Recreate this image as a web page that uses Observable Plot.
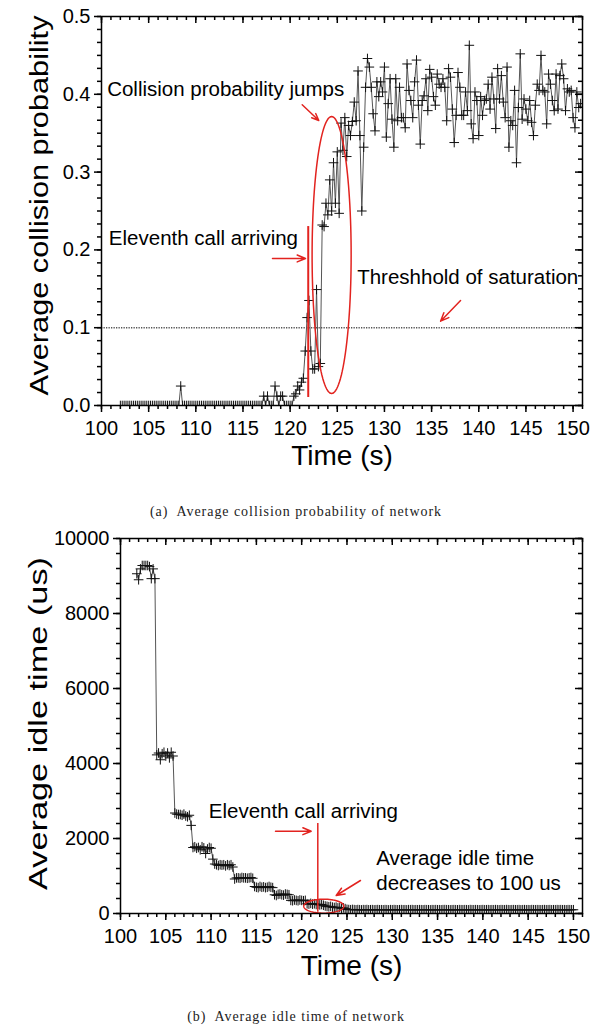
<!DOCTYPE html>
<html>
<head>
<meta charset="utf-8">
<script src="https://cdn.jsdelivr.net/npm/d3@7"></script>
<script src="https://cdn.jsdelivr.net/npm/@observablehq/plot@0.6"></script>
<style>
  html, body { margin: 0; padding: 0; background: #fff; }
  #page { position: relative; width: 592px; height: 1028px; overflow: hidden; background: #fff; }
  .caption { position: absolute; left: 0; width: 592px; text-align: center;
             font-family: "Liberation Serif", "Times New Roman", serif; font-size: 14px;
             letter-spacing: 0.95px; line-height: 16px; color: #222; white-space: pre; }
</style>
</head>
<body>
<div id="page"></div>
<script>
// ---------- (a) Average collision probability of network ----------
const collisionTime = [
  102, 102.2, 102.4, 102.6, 102.8, 103, 103.2, 103.4, 103.6, 103.8,
  104, 104.2, 104.4, 104.6, 104.8, 105, 105.2, 105.4, 105.6, 105.8,
  106, 106.2, 106.4, 106.6, 106.8, 107, 107.2, 107.4, 107.6, 107.8,
  108, 108.2, 108.4, 108.6, 108.8, 109, 109.2, 109.4, 109.6, 109.8,
  110, 110.2, 110.4, 110.6, 110.8, 111, 111.2, 111.4, 111.6, 111.8,
  112, 112.2, 112.4, 112.6, 112.8, 113, 113.2, 113.4, 113.6, 113.8,
  114, 114.2, 114.4, 114.6, 114.8, 115, 115.2, 115.4, 115.6, 115.8,
  116, 116.2, 116.4, 116.6, 116.8, 117, 117.2, 117.4, 117.6, 117.8,
  118, 118.2, 118.4, 118.6, 118.8, 119, 119.2, 119.4, 119.6, 119.8,
  120, 120.2, 120.4, 120.6, 120.8, 121, 121.2, 121.4, 121.6, 121.8,
  122, 122.2, 122.4, 122.6, 122.8, 123, 123.2, 123.4, 123.6, 123.8,
  124, 124.2, 124.4, 124.6, 124.8, 125, 125.2, 125.4, 125.6, 125.8,
  126, 126.2, 126.4, 126.6, 126.8, 127, 127.2, 127.4, 127.6, 127.8,
  128, 128.2, 128.4, 128.6, 128.8, 129, 129.2, 129.4, 129.6, 129.8,
  130, 130.2, 130.4, 130.6, 130.8, 131, 131.2, 131.4, 131.6, 131.8,
  132, 132.2, 132.4, 132.6, 132.8, 133, 133.2, 133.4, 133.6, 133.8,
  134, 134.2, 134.4, 134.6, 134.8, 135, 135.2, 135.4, 135.6, 135.8,
  136, 136.2, 136.4, 136.6, 136.8, 137, 137.2, 137.4, 137.6, 137.8,
  138, 138.2, 138.4, 138.6, 138.8, 139, 139.2, 139.4, 139.6, 139.8,
  140, 140.2, 140.4, 140.6, 140.8, 141, 141.2, 141.4, 141.6, 141.8,
  142, 142.2, 142.4, 142.6, 142.8, 143, 143.2, 143.4, 143.6, 143.8,
  144, 144.2, 144.4, 144.6, 144.8, 145, 145.2, 145.4, 145.6, 145.8,
  146, 146.2, 146.4, 146.6, 146.8, 147, 147.2, 147.4, 147.6, 147.8,
  148, 148.2, 148.4, 148.6, 148.8, 149, 149.2, 149.4, 149.6, 149.8,
  150, 150.2, 150.4, 150.6, 150.8
];
const collisionProb = [
  0, 0, 0, 0, 0, 0, 0, 0, 0, 0,
  0, 0, 0, 0, 0, 0, 0, 0, 0, 0,
  0, 0, 0, 0, 0, 0, 0, 0, 0, 0,
  0, 0, 0.025, 0, 0, 0, 0, 0, 0, 0,
  0, 0, 0, 0, 0, 0, 0, 0, 0, 0,
  0, 0, 0, 0, 0, 0, 0, 0, 0, 0,
  0, 0, 0, 0, 0, 0, 0, 0, 0, 0,
  0, 0, 0, 0, 0, 0, 0.012, 0, 0.012, 0,
  0, 0, 0.025, 0.012, 0, 0.012, 0.012, 0, 0, 0,
  0, 0, 0.012, 0.015, 0.025, 0.02, 0.03, 0.035, 0.07, 0.113,
  0.135, 0.07, 0.047, 0.047, 0.149, 0.05, 0.054, 0.232, 0.23, 0.26,
  0.245, 0.29, 0.25, 0.312, 0.26, 0.326, 0.247, 0.363, 0.328, 0.37,
  0.32, 0.36, 0.347, 0.365, 0.39, 0.366, 0.43, 0.347, 0.25, 0.332,
  0.409, 0.446, 0.435, 0.409, 0.375, 0.353, 0.416, 0.397, 0.416, 0.403,
  0.435, 0.345, 0.388, 0.42, 0.368, 0.332, 0.42, 0.366, 0.409, 0.37,
  0.37, 0.357, 0.439, 0.405, 0.392, 0.37, 0.416, 0.444, 0.386, 0.336,
  0.392, 0.398, 0.42, 0.379, 0.432, 0.422, 0.397, 0.386, 0.426, 0.413,
  0.409, 0.42, 0.409, 0.366, 0.433, 0.422, 0.381, 0.338, 0.373, 0.428,
  0.409, 0.373, 0.373, 0.403, 0.379, 0.463, 0.362, 0.343, 0.403, 0.392,
  0.347, 0.397, 0.373, 0.392, 0.394, 0.413, 0.381, 0.422, 0.394, 0.356,
  0.433, 0.394, 0.424, 0.39, 0.37, 0.435, 0.332, 0.366, 0.36, 0.405,
  0.312, 0.383, 0.452, 0.368, 0.394, 0.381, 0.366, 0.392, 0.364, 0.347,
  0.386, 0.413, 0.405, 0.45, 0.405, 0.403, 0.362, 0.426, 0.413, 0.392,
  0.379, 0.426, 0.381, 0.424, 0.439, 0.42, 0.379, 0.407, 0.403, 0.405,
  0.37, 0.357, 0.403, 0.383, 0.388
];
const saturationThreshold = 0.1;
const xTicksMajor = [100, 105, 110, 115, 120, 125, 130, 135, 140, 145, 150];
const probTicks = [0, 0.1, 0.2, 0.3, 0.4, 0.5];

// ---------- (b) Average idle time of network ----------
const idleTime = [
  101.8, 102, 102.2, 102.4, 102.6, 102.8, 103, 103.2, 103.4, 103.6,
  103.8, 104, 104.2, 104.4, 104.6, 104.8, 105, 105.2, 105.4, 105.6,
  105.8, 106, 106.2, 106.4, 106.6, 106.8, 107, 107.2, 107.4, 107.6,
  107.8, 108, 108.2, 108.4, 108.6, 108.8, 109, 109.2, 109.4, 109.6,
  109.8, 110, 110.2, 110.4, 110.6, 110.8, 111, 111.2, 111.4, 111.6,
  111.8, 112, 112.2, 112.4, 112.6, 112.8, 113, 113.2, 113.4, 113.6,
  113.8, 114, 114.2, 114.4, 114.6, 114.8, 115, 115.2, 115.4, 115.6,
  115.8, 116, 116.2, 116.4, 116.6, 116.8, 117, 117.2, 117.4, 117.6,
  117.8, 118, 118.2, 118.4, 118.6, 118.8, 119, 119.2, 119.4, 119.6,
  119.8, 120, 120.2, 120.4, 120.6, 120.8, 121, 121.2, 121.4, 121.6,
  121.8, 122, 122.2, 122.4, 122.6, 122.8, 123, 123.2, 123.4, 123.6,
  123.8, 124, 124.2, 124.4, 124.6, 124.8, 125, 125.2, 125.4, 125.6,
  125.8, 126, 126.2, 126.4, 126.6, 126.8, 127, 127.2, 127.4, 127.6,
  127.8, 128, 128.2, 128.4, 128.6, 128.8, 129, 129.2, 129.4, 129.6,
  129.8, 130, 130.2, 130.4, 130.6, 130.8, 131, 131.2, 131.4, 131.6,
  131.8, 132, 132.2, 132.4, 132.6, 132.8, 133, 133.2, 133.4, 133.6,
  133.8, 134, 134.2, 134.4, 134.6, 134.8, 135, 135.2, 135.4, 135.6,
  135.8, 136, 136.2, 136.4, 136.6, 136.8, 137, 137.2, 137.4, 137.6,
  137.8, 138, 138.2, 138.4, 138.6, 138.8, 139, 139.2, 139.4, 139.6,
  139.8, 140, 140.2, 140.4, 140.6, 140.8, 141, 141.2, 141.4, 141.6,
  141.8, 142, 142.2, 142.4, 142.6, 142.8, 143, 143.2, 143.4, 143.6,
  143.8, 144, 144.2, 144.4, 144.6, 144.8, 145, 145.2, 145.4, 145.6,
  145.8, 146, 146.2, 146.4, 146.6, 146.8, 147, 147.2, 147.4, 147.6,
  147.8, 148, 148.2, 148.4, 148.6, 148.8, 149, 149.2, 149.4, 149.6,
  149.8, 150
];
const idleUs = [
  9060, 8900, 9190, 9280, 9280, 9280, 9280, 9250, 8930, 9190,
  8930, 4230, 4280, 4100, 4260, 4300, 4200, 4280, 4150, 4300,
  4200, 2680, 2650, 2640, 2640, 2620, 2650, 2600, 2580, 2620,
  2350, 1760, 1780, 1740, 1760, 1700, 1780, 1750, 1600, 1720,
  1760, 1740, 1450, 1320, 1300, 1280, 1300, 1290, 1300, 1270,
  1300, 1280, 1300, 1240, 920, 950, 950, 940, 960, 950,
  950, 940, 950, 960, 940, 720, 700, 690, 720, 700,
  710, 690, 700, 720, 700, 690, 500, 480, 510, 520,
  500, 490, 520, 510, 500, 350, 340, 360, 350, 340,
  360, 350, 340, 350, 260, 250, 270, 250, 260, 240,
  250, 230, 240, 220, 200, 190, 180, 190, 170, 160,
  170, 150, 160, 140, 150, 130, 110, 105, 100, 108,
  102, 98, 104, 100, 96, 102, 100, 104, 98, 100,
  102, 97, 100, 103, 99, 100, 98, 102, 100, 96,
  101, 99, 103, 100, 98, 100, 102, 99, 100, 97,
  101, 100, 103, 98, 100, 99, 101, 100, 98, 102,
  100, 99, 97, 101, 100, 102, 99, 100, 98, 101,
  103, 100, 99, 97, 100, 101, 100, 98, 102, 100,
  99, 101, 100, 97, 103, 100, 99, 101, 100, 98,
  100, 102, 99, 100, 101, 98, 100, 99, 102, 100,
  98, 101, 100, 99, 103, 100, 98, 100, 101, 99,
  100, 102, 97, 100, 101, 99, 100, 98, 102, 100,
  99, 101, 100, 98, 100, 102, 99, 100, 101, 98,
  100, 99, 102, 100, 101, 99, 100, 98, 101, 100,
  99, 100
];
const idleTicks = [0, 2000, 4000, 6000, 8000, 10000];

// ---------- shared styling ----------
const SANS = "'Liberation Sans', Arial, Helvetica, sans-serif";
const RED = "#e2231f";
const INK = "#000";

const seriesA = collisionTime.map((t, i) => ({t, v: collisionProb[i]}));
const seriesB = idleTime.map((t, i) => ({t, v: idleUs[i]}));

// closed outline of an ellipse given centre and radii in data units
function ellipseOutline(cx, cy, rx, ry) {
  return d3.range(0, 361, 3).map(a => {
    const r = a * Math.PI / 180;
    return {x: cx + rx * Math.cos(r), y: cy + ry * Math.sin(r)};
  });
}

// box axes: outward ticks on bottom/left, inward mirrored ticks on top/right
function boxAxes({xMajor, xMinor, yMajor, yMinor, yFormat, plotW, plotH}) {
  const tick = {stroke: INK, strokeWidth: 1.5};
  return [
    Plot.axisX(xMinor, {tickSize: 4, tickFormat: () => "", label: null, ...tick}),
    Plot.axisX(xMajor, {tickSize: 7, tickPadding: 8, fontSize: 20, tickFormat: d => String(d), label: null, ...tick}),
    Plot.axisY(yMinor, {tickSize: 4, tickFormat: () => "", label: null, ...tick}),
    Plot.axisY(yMajor, {tickSize: 7, tickPadding: 4, fontSize: 20, tickFormat: yFormat, label: null, ...tick}),
    Plot.tickX(xMinor, {x: d => d, insetBottom: plotH - 4, ...tick}),
    Plot.tickX(xMajor, {x: d => d, insetBottom: plotH - 7, ...tick}),
    Plot.tickY(yMinor, {y: d => d, insetLeft: plotW - 4, ...tick}),
    Plot.tickY(yMajor, {y: d => d, insetLeft: plotW - 7, ...tick}),
    Plot.frame({stroke: INK, strokeWidth: 1.5})
  ];
}

const markerStyle = {x: "t", y: "v", symbol: "plus", r: 3.2, stroke: "#111", strokeWidth: 1, clip: true};
const traceStyle = {x: "t", y: "v", stroke: "#555", strokeWidth: 1, clip: true};
const arrowStyle = {x1: "x1", y1: "y1", x2: "x2", y2: "y2", stroke: RED, strokeWidth: 1.5, headLength: 9, headAngle: 45};
const noteStyle = {x: "x", y: "y", text: "text", textAnchor: "start", fontSize: 20.5, fill: INK};
const yTitleStyle = {frameAnchor: "left", textAnchor: "middle", lineAnchor: "middle", rotate: -90, fontSize: 25, fill: INK};

// ---------- panel (a) ----------
const hA = 490, mTopA = 16, mBotA = 85, mLeftA = 101, mRightA = 10;
const plotA = Plot.plot({
  width: 592, height: hA,
  marginLeft: mLeftA, marginRight: mRightA, marginTop: mTopA, marginBottom: mBotA,
  x: {domain: [100, 151]},
  y: {domain: [0, 0.5]},
  style: {fontFamily: SANS, fontSize: "20px", color: INK, background: "transparent", overflow: "visible"},
  marks: [
    Plot.ruleY([saturationThreshold], {stroke: "#555", strokeWidth: 1.4, strokeDasharray: "1.3,1.2"}),
    Plot.line(seriesA, traceStyle),
    Plot.dot(seriesA, markerStyle),
    // jump region and arrival marker
    Plot.line(ellipseOutline(124.4, 0.1934, 2.07, 0.178), {x: "x", y: "y", stroke: RED, strokeWidth: 1.5}),
    Plot.ruleX([121.92], {y1: 0.0103, y2: 0.23, stroke: RED, strokeWidth: 2}),
    Plot.arrow([
      {x1: 121.28, y1: 0.3865, x2: 123.04, y2: 0.3663},
      {x1: 118.13, y1: 0.189, x2: 121.63, y2: 0.189},
      {x1: 138.07, y1: 0.135, x2: 135.95, y2: 0.1084}
    ], arrowStyle),
    Plot.text([
      {x: 100.6, y: 0.406, text: "Collision probability jumps"},
      {x: 100.78, y: 0.2147, text: "Eleventh call arriving"},
      {x: 127.11, y: 0.1645, text: "Threshhold of saturation"}
    ], noteStyle),
    ...boxAxes({
      xMajor: xTicksMajor, xMinor: d3.range(100, 152, 1),
      yMajor: probTicks, yMinor: d3.range(0, 0.5001, 0.1 / 6),
      yFormat: d3.format(".1f"),
      plotW: 592 - mLeftA - mRightA, plotH: hA - mTopA - mBotA
    }),
    Plot.text(["Time (s)"], {frameAnchor: "bottom", dy: 59, fontSize: 28, fill: INK}),
    Plot.text(["Average collision probability"], {...yTitleStyle, dx: -62, dy: -5.5})
  ]
});

// ---------- panel (b) ----------
const hB = 480, mTopB = 18, mBotB = 87, mLeftB = 120, mRightB = 10;
const plotB = Plot.plot({
  width: 592, height: hB,
  marginLeft: mLeftB, marginRight: mRightB, marginTop: mTopB, marginBottom: mBotB,
  x: {domain: [100, 151]},
  y: {domain: [0, 10000]},
  style: {fontFamily: SANS, fontSize: "20px", color: INK, background: "transparent", overflow: "visible"},
  marks: [
    Plot.line(seriesB, traceStyle),
    Plot.dot(seriesB, markerStyle),
    Plot.line(ellipseOutline(122.44, 195, 2.21, 187), {x: "x", y: "y", stroke: RED, strokeWidth: 1.5}),
    Plot.ruleX([121.78], {y1: 35, y2: 2400, stroke: RED, strokeWidth: 1.5}),
    Plot.arrow([
      {x1: 117.11, y1: 2195, x2: 121.05, y2: 2195},
      {x1: 126.49, y1: 880, x2: 123.81, y2: 480}
    ], arrowStyle),
    Plot.text([
      {x: 109.75, y: 2773, text: "Eleventh call arriving"},
      {x: 128.23, y: 1168, text: "Average idle time\ndecreases to 100 us"}
    ], {...noteStyle, lineHeight: 1.22}),
    ...boxAxes({
      xMajor: xTicksMajor, xMinor: d3.range(100, 152, 1),
      yMajor: idleTicks, yMinor: d3.range(0, 10001, 400),
      yFormat: d3.format("d"),
      plotW: 592 - mLeftB - mRightB, plotH: hB - mTopB - mBotB
    }),
    Plot.text(["Time (s)"], {frameAnchor: "bottom", dy: 61, fontSize: 28, fill: INK}),
    Plot.text(["Average idle time (us)"], {...yTitleStyle, dx: -82, dy: -2.5})
  ]
});

// the vertical axis titles are set in a tall, narrow face
function stretchTitle(svg, label, length) {
  d3.select(svg).selectAll("text")
    .filter(function () { return this.textContent === label; })
    .attr("textLength", length)
    .attr("lengthAdjust", "spacingAndGlyphs");
}
stretchTitle(plotA, "Average collision probability", 380);
stretchTitle(plotB, "Average idle time (us)", 333);

// ---------- page assembly ----------
const page = document.getElementById("page");
function place(node, top) {
  node.style.position = "absolute";
  node.style.left = "0px";
  node.style.top = top + "px";
  page.appendChild(node);
}
function caption(text, top) {
  const div = document.createElement("div");
  div.className = "caption";
  div.style.top = top + "px";
  div.textContent = text;
  page.appendChild(div);
}
place(plotA, 0);
caption("(a)  Average collision probability of network", 504);
place(plotB, 520);
caption("(b)  Average idle time of network", 1009);
</script>
</body>
</html>
